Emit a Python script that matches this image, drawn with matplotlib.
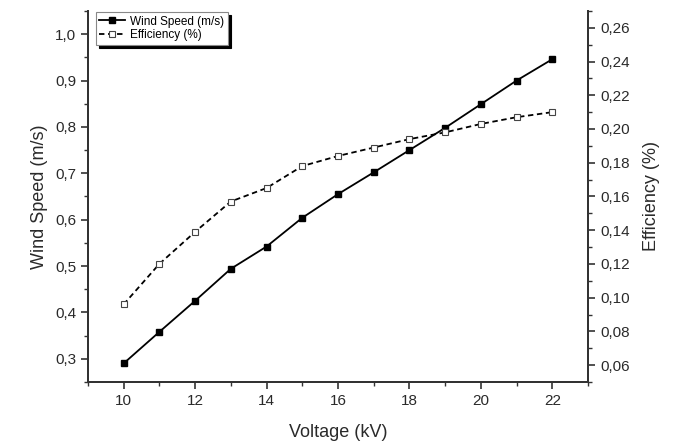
import numpy as np
import matplotlib
matplotlib.use("Agg")
from matplotlib import pyplot as plt
from matplotlib.ticker import MultipleLocator, FuncFormatter

# Data
voltage = [10, 11, 12, 13, 14, 15, 16, 17, 18, 19, 20, 21, 22]  # kV
wind_speed = [0.290, 0.358, 0.425, 0.494, 0.542, 0.604, 0.655,
              0.702, 0.750, 0.798, 0.849, 0.900, 0.946]  # m/s
efficiency = [0.096, 0.120, 0.139, 0.157, 0.165, 0.178, 0.184,
              0.189, 0.194, 0.198, 0.203, 0.207, 0.210]  # %

plt.rcParams['font.family'] = ['Liberation Sans', 'DejaVu Sans']
txt = '#2a2a2a'

def comma(fmt):
    return FuncFormatter(lambda v, p: (fmt % v).replace('.', ','))

fig = plt.figure(figsize=(6.76, 4.46), dpi=100)
ax = fig.add_axes([0.130, 0.1435, 0.740, 0.832])
ax2 = ax.twinx()

l1, = ax.plot(voltage, wind_speed, color='black', lw=1.3, marker='s',
              ms=4.3, mfc='black', mec='black', label='Wind Speed (m/s)')
l2, = ax2.plot(voltage, efficiency, color='black', lw=1.3, ls=(0, (3, 2)),
               marker='s', ms=5, mfc='white', mec='#444444', mew=0.8,
               label='Efficiency (%)')

ax.set_xlim(9, 23)
ax.set_ylim(0.25, 1.05)
ax2.set_ylim(0.05, 0.27)

ax.xaxis.set_major_locator(MultipleLocator(2))
ax.xaxis.set_minor_locator(MultipleLocator(1))
ax.yaxis.set_major_locator(MultipleLocator(0.1))
ax.yaxis.set_minor_locator(MultipleLocator(0.05))
ax2.yaxis.set_major_locator(MultipleLocator(0.02))
ax2.yaxis.set_minor_locator(MultipleLocator(0.01))
ax.yaxis.set_major_formatter(comma('%.1f'))
ax2.yaxis.set_major_formatter(comma('%.2f'))

for a in (ax, ax2):
    a.spines['top'].set_visible(False)
    for s in a.spines.values():
        s.set_linewidth(1.4)
        s.set_color('#333333')
    a.tick_params(which='major', direction='out', length=5, width=1.2,
                  labelsize=11, colors='#333333', labelcolor=txt)
    a.tick_params(which='minor', direction='out', length=3, width=1.0,
                  colors='#333333')
ax2.tick_params(axis='y', which='both', left=False, right=True)
ax.tick_params(axis='y', which='both', right=False)

ax.set_xlabel('Voltage (kV)', fontsize=13, color=txt, labelpad=12)
ax.set_ylabel('Wind Speed (m/s)', fontsize=13, color=txt, labelpad=5)
ax2.set_ylabel('Efficiency (%)', fontsize=13, color=txt, labelpad=10)

leg = ax2.legend(handles=[l1, l2], loc='upper left',
                 bbox_to_anchor=(0.016, 0.997), fontsize=8.5,
                 fancybox=False, shadow={'color': 'black', 'alpha': 1.0},
                 edgecolor='#888888', framealpha=1.0, borderpad=0.3,
                 handlelength=2.2, handletextpad=0.4, labelspacing=0.15,
                 borderaxespad=0.0)
leg.get_frame().set_linewidth(0.8)

plt.savefig('out.png', dpi=100)
